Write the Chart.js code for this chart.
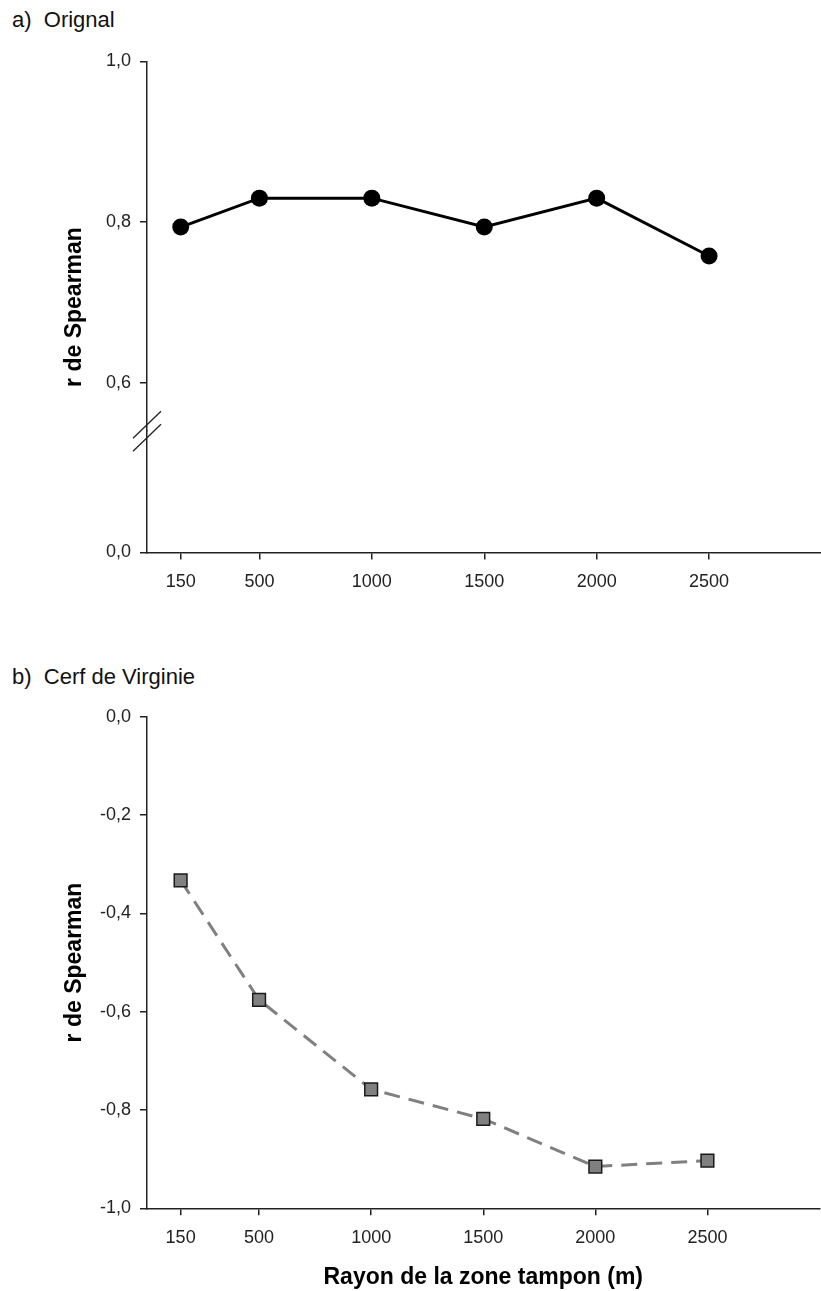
<!DOCTYPE html>
<html>
<head>
<meta charset="utf-8">
<script src="https://cdn.jsdelivr.net/npm/chart.js@4.4.1/dist/chart.umd.min.js"></script>
<style>
  html, body { margin:0; padding:0; background:#fff; overflow:hidden; width:821px; height:1291px; position:relative; }
  .panel { position:absolute; left:0; width:830px; }
  .ptitle { position:absolute; left:12px; font-family:"Liberation Sans", Arial, sans-serif; font-size:22px; color:#111; white-space:pre; line-height:26px; }
</style>
</head>
<body>
<div class="ptitle" style="top:7px">a)  Orignal</div>
<div class="panel" style="top:0px;height:600px"><canvas id="c1" width="830" height="600"></canvas></div>
<div class="ptitle" style="top:664px">b)  Cerf de Virginie</div>
<div class="panel" style="top:640px;height:651px"><canvas id="c2" width="830" height="651"></canvas></div>
<script>
// ---- data ----
const radii = [150, 500, 1000, 1500, 2000, 2500];
const orignalR = [0.794, 0.830, 0.830, 0.794, 0.830, 0.758];
const cerfR = [-0.333, -0.576, -0.758, -0.818, -0.915, -0.903];
const xTicks = [150, 500, 1000, 1500, 2000, 2500];
const yTicksTop = [0.6, 0.8, 1.0];
const yTicksBreak = [0.0];
const yTicksBottom = [0.0, -0.2, -0.4, -0.6, -0.8, -1.0];
const xTitle = 'Rayon de la zone tampon (m)';
const yTitle = 'r de Spearman';

const FONT = '"Liberation Sans", Arial, sans-serif';
const AXIS_COLOR = '#222';
const fmt = v => (Math.abs(v) < 1e-9 ? 0 : v).toFixed(1).replace('.', ',');

function tickList(arr) { return s => { s.ticks = arr.map(v => ({value: v})); }; }

function xScale(h, withTitle) {
  return {
    type: 'linear', min: 0, max: 3000,
    afterBuildTicks: tickList(xTicks),
    afterFit: s => { s.height = h; },
    ticks: { font: {family: FONT, size: 18}, color: '#222', padding: 11.5, maxRotation: 0, autoSkip: false, callback: v => String(v) },
    grid: { display: true, drawOnChartArea: false, drawTicks: true, tickLength: 7, color: AXIS_COLOR, lineWidth: 1.5 },
    border: { display: true, color: AXIS_COLOR, width: 1.5 },
    title: withTitle ? { display: true, text: xTitle, font: {family: FONT, size: 23, weight: 'bold'}, color: '#000', padding: {top: 0, bottom: 0} } : { display: false }
  };
}
function yScale(min, max, ticks, width, extra) {
  return Object.assign({
    type: 'linear', position: 'left', min: min, max: max,
    afterBuildTicks: tickList(ticks),
    afterFit: s => { s.width = width; },
    ticks: { font: {family: FONT, size: 18}, color: '#222', padding: 9, callback: v => fmt(v) },
    grid: { display: true, drawOnChartArea: false, drawTicks: true, tickLength: 7, color: AXIS_COLOR, lineWidth: 1.5 },
    border: { display: true, color: AXIS_COLOR, width: 1.5 }
  }, extra || {});
}
const yTitleOpts = { display: true, text: yTitle, font: {family: FONT, size: 23, weight: 'bold'}, color: '#000', padding: {top: 61, bottom: 0} };

const breakPlugin = {
  id: 'axisBreak',
  afterDraw(chart) {
    const top = chart.scales.y;
    const low = chart.scales.y0;
    if (!top || !low) return;
    const ctx = chart.ctx;
    const x = top.right;
    const yb = Math.min(top.bottom, low.bottom, Math.max(top.top, low.top));
    ctx.save();
    ctx.strokeStyle = AXIS_COLOR; ctx.lineWidth = 1.3;
    [-6.5, 6.5].forEach(d => {
      ctx.beginPath();
      ctx.moveTo(x - 14, yb + d + 13.5);
      ctx.lineTo(x + 14, yb + d - 13.5);
      ctx.stroke();
    });
    ctx.restore();
  }
};

Chart.defaults.animation = false;
Chart.defaults.font.family = FONT;

new Chart(document.getElementById('c1'), {
  type: 'line',
  data: { datasets: [{
    data: radii.map((r, i) => ({x: r, y: orignalR[i]})),
    xAxisID: 'x', yAxisID: 'y',
    borderColor: '#000', borderWidth: 3, backgroundColor: '#000',
    pointRadius: 8.5, pointHoverRadius: 8.5, pointBackgroundColor: '#000', pointBorderColor: '#000', pointBorderWidth: 0,
    tension: 0, clip: false
  }]},
  options: {
    responsive: false, devicePixelRatio: 1,
    layout: { padding: {top: 61.5, left: 0, right: 0, bottom: 0} },
    plugins: { legend: {display: false}, tooltip: {enabled: false}, title: {display: false} },
    scales: {
      x: xScale(47.5, false),
      yt: { type: 'linear', position: 'left', weight: 10, min: 0, max: 1,
            afterFit: s => { s.width = 60; },
            ticks: {display: false}, grid: {display: false}, border: {display: false},
            title: yTitleOpts },
      y0: yScale(0.0, 0.15, yTicksBreak, 87, { stack: 'brk', stackWeight: 121.3 }),
      y: yScale(0.54, 1.0, yTicksTop, 87, { stack: 'brk', stackWeight: 369.7 })
    }
  },
  plugins: [breakPlugin]
});

new Chart(document.getElementById('c2'), {
  type: 'line',
  data: { datasets: [{
    data: radii.map((r, i) => ({x: r, y: cerfR[i]})),
    borderColor: '#808080', borderWidth: 3, borderDash: [16, 9],
    pointStyle: 'rect', pointRadius: 9, pointHoverRadius: 9,
    pointBackgroundColor: '#808080', pointBorderColor: '#1a1a1a', pointBorderWidth: 1.5,
    tension: 0, clip: false
  }]},
  options: {
    responsive: false, devicePixelRatio: 1,
    layout: { padding: {top: 76.7, left: 0, right: 0, bottom: 0} },
    plugins: { legend: {display: false}, tooltip: {enabled: false}, title: {display: false} },
    scales: {
      x: xScale(82.7, true),
      y: yScale(-1.0, 0.0, yTicksBottom, 147, { title: yTitleOpts })
    }
  }
});
</script>
</body>
</html>
